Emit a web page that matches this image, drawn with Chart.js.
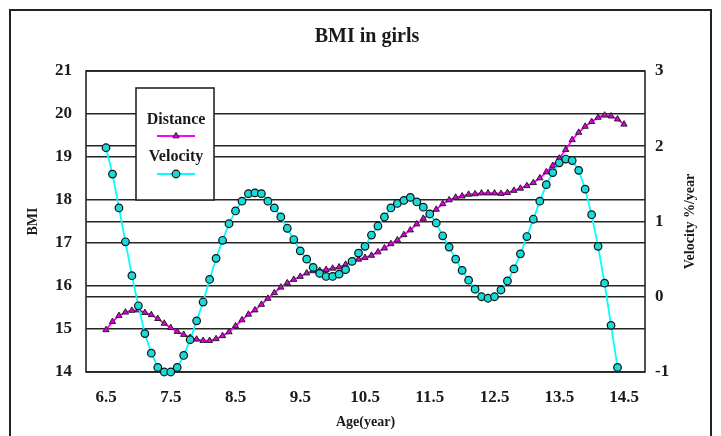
<!DOCTYPE html>
<html>
<head>
<meta charset="utf-8">
<script src="https://cdn.jsdelivr.net/npm/chart.js@4.4.1/dist/chart.umd.min.js"></script>
<style>
  html, body { margin: 0; padding: 0; background: #ffffff; }
  canvas { display: block; }
</style>
</head>
<body>
<canvas id="c" width="721" height="436"></canvas>
<script>
// ---------------- data ----------------
const ages = [
  6.5, 6.6, 6.7, 6.8, 6.9, 7.0, 7.1, 7.2, 7.3, 7.4,
  7.5, 7.6, 7.7, 7.8, 7.9, 8.0, 8.1, 8.2, 8.3, 8.4,
  8.5, 8.6, 8.7, 8.8, 8.9, 9.0, 9.1, 9.2, 9.3, 9.4,
  9.5, 9.6, 9.7, 9.8, 9.9, 10.0, 10.1, 10.2, 10.3, 10.4,
  10.5, 10.6, 10.7, 10.8, 10.9, 11.0, 11.1, 11.2, 11.3, 11.4,
  11.5, 11.6, 11.7, 11.8, 11.9, 12.0, 12.1, 12.2, 12.3, 12.4,
  12.5, 12.6, 12.7, 12.8, 12.9, 13.0, 13.1, 13.2, 13.3, 13.4,
  13.5, 13.6, 13.7, 13.8, 13.9, 14.0, 14.1, 14.2, 14.3, 14.4,
  14.5
];

// BMI distance curve (left axis)
const distanceBMI = [
  14.98, 15.17, 15.31, 15.39, 15.43, 15.44, 15.38, 15.33, 15.24, 15.13,
  15.03, 14.94, 14.87, 14.80, 14.76, 14.73, 14.73, 14.77, 14.84, 14.93,
  15.07, 15.21, 15.34, 15.44, 15.57, 15.71, 15.84, 15.97, 16.07, 16.15,
  16.22, 16.30, 16.35, 16.36, 16.38, 16.41, 16.44, 16.50, 16.56, 16.62,
  16.66, 16.71, 16.79, 16.88, 16.98, 17.07, 17.19, 17.30, 17.44, 17.57,
  17.67, 17.78, 17.91, 18.00, 18.06, 18.09, 18.13, 18.14, 18.16, 18.16,
  18.16, 18.15, 18.17, 18.22, 18.27, 18.33, 18.40, 18.51, 18.65, 18.80,
  18.97, 19.17, 19.40, 19.57, 19.71, 19.82, 19.92, 19.97, 19.95, 19.88,
  19.76
];

// BMI velocity (right axis), ages 6.5 .. 14.4
const velocity = [
  1.98, 1.63, 1.18, 0.73, 0.28, -0.12, -0.49, -0.75, -0.94, -1.00,
  -1.00, -0.94, -0.78, -0.57, -0.32, -0.07, 0.23, 0.51, 0.75, 0.97,
  1.14, 1.27, 1.37, 1.38, 1.37, 1.27, 1.18, 1.06, 0.91, 0.76,
  0.61, 0.50, 0.39, 0.31, 0.27, 0.27, 0.30, 0.36, 0.47, 0.58,
  0.67, 0.82, 0.94, 1.06, 1.18, 1.24, 1.28, 1.32, 1.26, 1.19,
  1.10, 0.98, 0.81, 0.66, 0.50, 0.35, 0.22, 0.10, 0.00, -0.02,
  0.00, 0.09, 0.21, 0.37, 0.57, 0.80, 1.03, 1.27, 1.49, 1.65,
  1.78, 1.83, 1.81, 1.68, 1.43, 1.09, 0.67, 0.18, -0.38, -0.94
];

const xTickLabels = [6.5, 7.5, 8.5, 9.5, 10.5, 11.5, 12.5, 13.5, 14.5];
const bmiTicks = [14, 15, 16, 17, 18, 19, 20, 21];
const velocityTicks = [-1, 0, 1, 2, 3];

const chartTitle = 'BMI in girls';
const xTitle = 'Age(year)';
const yTitle = 'BMI';
const y2Title = 'Velocity %/year';
const seriesNames = ['Distance', 'Velocity'];

// ---------------- style ----------------
const SERIF = "'Liberation Serif', 'Times New Roman', serif";
const INK = '#1a1a1a';
const GRID = '#262626';
const MAGENTA = '#ff00ff';
const MAGENTA_FILL = '#dd00dd';
const CYAN = '#00ffff';
const CYAN_FILL = '#19d9d9';

const decor = {
  id: 'decor',
  beforeDraw(chart) {
    const ctx = chart.ctx;
    ctx.save();
    ctx.fillStyle = '#ffffff';
    ctx.fillRect(0, 0, chart.width, chart.height);
    ctx.restore();
  },
  beforeDatasetsDraw(chart) {
    const ctx = chart.ctx, a = chart.chartArea;
    ctx.save();
    ctx.strokeStyle = GRID;
    ctx.lineWidth = 1.6;
    ctx.strokeRect(a.left, a.top, a.right - a.left, a.bottom - a.top);
    ctx.restore();
  },
  afterDraw(chart) {
    const ctx = chart.ctx, a = chart.chartArea;
    ctx.save();
    // outer frame
    ctx.strokeStyle = '#222';
    ctx.lineWidth = 2;
    ctx.strokeRect(10, 10, 701, 440);
    // title
    ctx.fillStyle = INK;
    ctx.font = 'bold 20px ' + SERIF;
    ctx.textAlign = 'center';
    ctx.textBaseline = 'middle';
    ctx.fillText(chartTitle, 367, 37);
    // right axis title (reads bottom to top)
    ctx.save();
    ctx.translate(690, (a.top + a.bottom) / 2);
    ctx.rotate(-Math.PI / 2);
    ctx.font = 'bold 14px ' + SERIF;
    ctx.fillText(y2Title, 0, 0);
    ctx.restore();
    // legend box
    const bx = 136, by = 88, bw = 78, bh = 112;
    ctx.fillStyle = '#ffffff';
    ctx.fillRect(bx, by, bw, bh);
    ctx.strokeStyle = GRID;
    ctx.lineWidth = 1.6;
    ctx.strokeRect(bx, by, bw, bh);
    const rows = [
      { name: seriesNames[0], ds: chart.data.datasets[1], ty: 120, ly: 136 },
      { name: seriesNames[1], ds: chart.data.datasets[0], ty: 157, ly: 174 }
    ];
    rows.forEach(r => {
      ctx.fillStyle = INK;
      ctx.font = 'bold 16px ' + SERIF;
      ctx.textAlign = 'center';
      ctx.textBaseline = 'middle';
      ctx.fillText(r.name, 176, r.ty);
      ctx.strokeStyle = r.ds.borderColor;
      ctx.lineWidth = 2;
      ctx.beginPath();
      ctx.moveTo(157, r.ly);
      ctx.lineTo(195, r.ly);
      ctx.stroke();
      ctx.fillStyle = r.ds.pointBackgroundColor;
      ctx.strokeStyle = r.ds.pointBorderColor;
      ctx.lineWidth = r.ds.pointBorderWidth;
      Chart.helpers.drawPoint(ctx, {
        pointStyle: r.ds.pointStyle,
        radius: r.ds.pointRadius,
        borderWidth: r.ds.pointBorderWidth,
        rotation: 0
      }, 176, r.ly);
    });
    ctx.restore();
  }
};

const X_MIN = 6.5 - 20 / 64.75;
const X_MAX = X_MIN + 559 / 64.75;

new Chart(document.getElementById('c'), {
  type: 'line',
  data: {
    datasets: [
      {
        label: seriesNames[1],
        data: velocity.map((v, i) => ({ x: ages[i], y: v })),
        yAxisID: 'y2',
        borderColor: CYAN,
        borderWidth: 1.8,
        pointStyle: 'circle',
        pointRadius: 3.8,
        pointBackgroundColor: CYAN_FILL,
        pointBorderColor: '#111',
        pointBorderWidth: 1.2,
        tension: 0,
        clip: false,
        order: 0
      },
      {
        label: seriesNames[0],
        data: distanceBMI.map((v, i) => ({ x: ages[i], y: v })),
        yAxisID: 'y',
        borderColor: MAGENTA,
        borderWidth: 1.8,
        pointStyle: 'triangle',
        pointRadius: 3.6,
        pointBackgroundColor: MAGENTA_FILL,
        pointBorderColor: '#222',
        pointBorderWidth: 1,
        tension: 0,
        clip: false,
        order: 1
      }
    ]
  },
  options: {
    responsive: false,
    animation: false,
    devicePixelRatio: 1,
    layout: { padding: { top: 71, left: 0, right: 0, bottom: 0 } },
    plugins: {
      legend: { display: false },
      title: { display: false },
      tooltip: { enabled: false }
    },
    scales: {
      x: {
        type: 'linear',
        min: X_MIN,
        max: X_MAX,
        afterBuildTicks: s => { s.ticks = xTickLabels.map(v => ({ value: v })); },
        afterFit: s => { s.height = 64; },
        grid: { display: false, drawTicks: false },
        border: { display: false },
        ticks: {
          autoSkip: false, maxRotation: 0, padding: 15,
          color: INK, font: { family: SERIF, size: 17, weight: 'bold' },
          callback: v => Number(v).toFixed(1)
        },
        title: {
          display: true, text: xTitle, color: INK,
          font: { family: SERIF, size: 14, weight: 'bold' },
          padding: { top: 0, bottom: 5 }
        }
      },
      y: {
        position: 'left',
        min: 14, max: 21,
        afterBuildTicks: s => { s.ticks = bmiTicks.map(v => ({ value: v })); },
        afterFit: s => { s.width = 86; },
        grid: { color: GRID, lineWidth: 1.6, drawTicks: false },
        border: { display: false },
        ticks: {
          padding: 14, color: INK,
          font: { family: SERIF, size: 17, weight: 'bold' }
        },
        title: {
          display: true, text: yTitle, color: INK,
          font: { family: SERIF, size: 14, weight: 'bold' },
          padding: { top: 25, bottom: 0 }
        }
      },
      y2: {
        position: 'right',
        min: -1, max: 3,
        afterBuildTicks: s => { s.ticks = velocityTicks.map(v => ({ value: v })); },
        afterFit: s => { s.width = 76; },
        grid: { color: GRID, lineWidth: 1.6, drawTicks: false },
        border: { display: false },
        ticks: {
          padding: 10, color: INK,
          font: { family: SERIF, size: 17, weight: 'bold' }
        }
      }
    }
  },
  plugins: [decor]
});
</script>
</body>
</html>
